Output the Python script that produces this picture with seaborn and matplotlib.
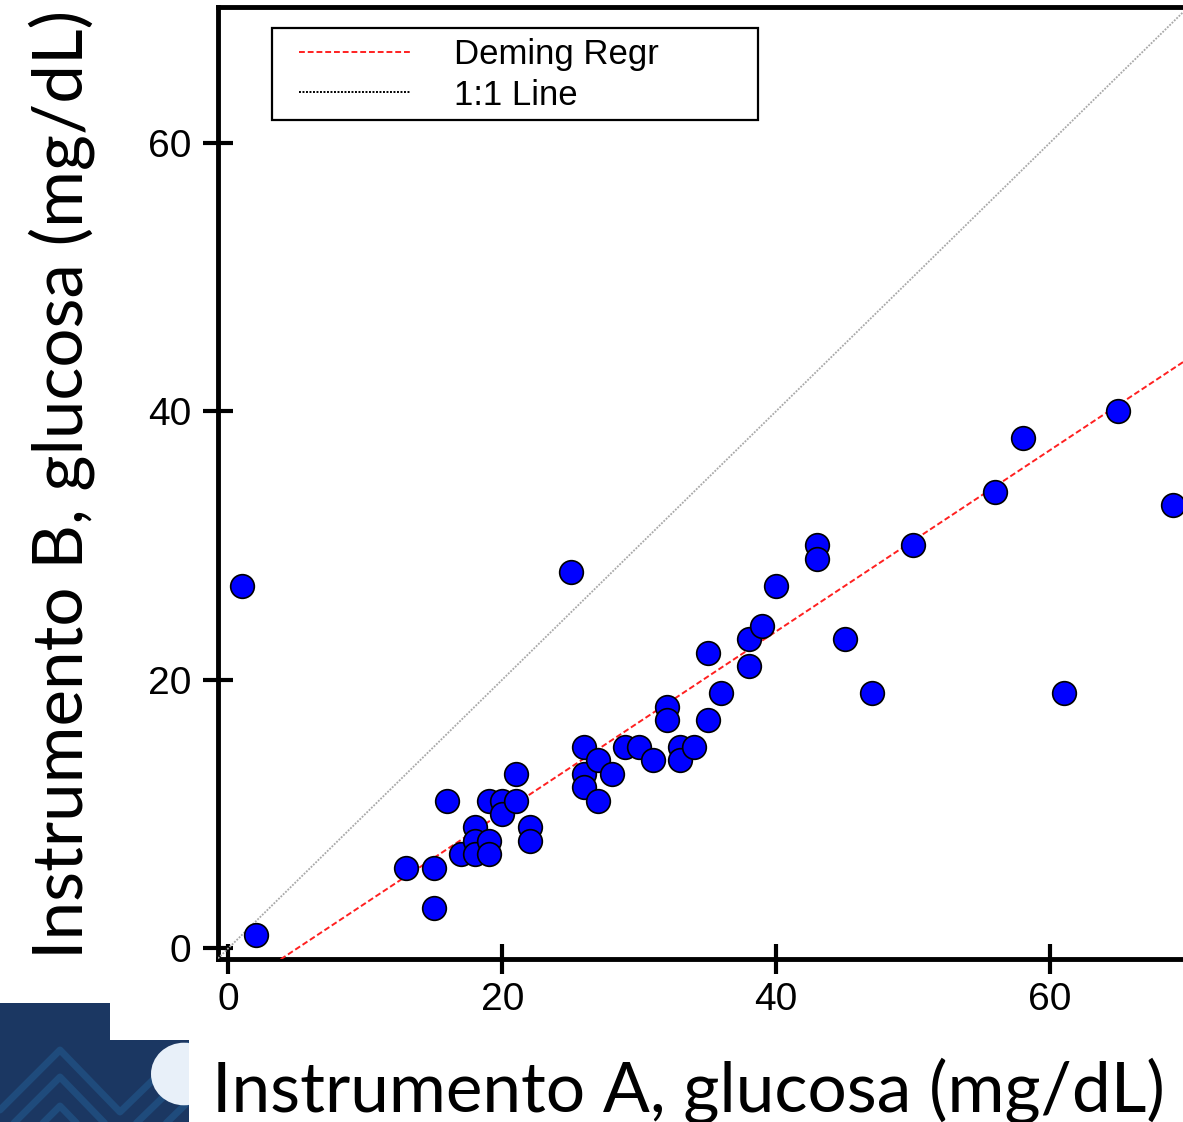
import numpy as np
import pandas as pd
import matplotlib
matplotlib.use("Agg")
import matplotlib.pyplot as plt
import seaborn as sns
from matplotlib.lines import Line2D
from matplotlib.patches import Rectangle, Polygon, Circle
from matplotlib.ticker import MultipleLocator

# ---------------- data ----------------
instr_a = [1, 2, 13, 15, 15, 16, 17, 18, 18, 18, 19, 19, 19, 20, 20, 21, 21, 22, 22,
           25, 26, 26, 26, 27, 27, 28, 29, 30, 31, 32, 32, 33, 33, 34, 35, 35, 36,
           38, 38, 39, 40, 43, 43, 45, 47, 50, 56, 58, 61, 65, 69]
instr_b = [27, 1, 6, 6, 3, 11, 7, 9, 8, 7, 8, 7, 11, 11, 10, 11, 13, 9, 8,
           28, 15, 13, 12, 14, 11, 13, 15, 15, 14, 18, 17, 15, 14, 15, 17, 22, 19,
           21, 23, 24, 27, 30, 29, 23, 19, 30, 34, 38, 19, 40, 33]
deming_slope = 0.675
deming_intercept = -3.4
tick_values = [0, 20, 40, 60]
legend_labels = ["Deming Regr", "1:1 Line"]
xlabel = "Instrumento A, glucosa (mg/dL)"
ylabel = "Instrumento B, glucosa (mg/dL)"

df = pd.DataFrame({"a": instr_a, "b": instr_b})

# ---------------- figure ----------------
sns.set_style("white")
plt.rcParams["font.family"] = ["Liberation Sans", "DejaVu Sans"]
plt.rcParams["text.color"] = "black"

W, H = 1183, 1122
fig = plt.figure(figsize=(W / 100, H / 100), dpi=100)
ax = fig.add_axes([218 / W, 1 - 959.3 / H, (W - 218) / W, (959.3 - 7) / H])
ax.set_facecolor("white")

sns.scatterplot(data=df, x="a", y="b", ax=ax, color="#0000ff", edgecolor="black",
                linewidth=1.2, s=290, zorder=4, legend=False)

ax.axline((0, deming_intercept), slope=deming_slope, color="#ff2020", lw=1.4,
          ls=(0, (3, 1.5)), zorder=3)
ax.axline((0, 0), slope=1, color="#a8a8a8", lw=1.3, ls=(0, (1, 0.8)), zorder=3)

ax.set_xlim(-0.752, 69.71)
ax.set_ylim(-0.819, 70.10)
ax.set_xticks(tick_values)
ax.set_yticks(tick_values)
ax.xaxis.set_minor_locator(MultipleLocator(5))
ax.yaxis.set_minor_locator(MultipleLocator(5))
ax.set_xlabel("")
ax.set_ylabel("")

for side in ["left", "bottom", "top"]:
    ax.spines[side].set_visible(True)
    ax.spines[side].set_linewidth(3.5)
    ax.spines[side].set_color("black")
ax.spines["right"].set_visible(False)

ax.tick_params(which="both", bottom=True, left=True, top=False, right=False)
ax.tick_params(which="major", direction="inout", length=21, width=3, color="black",
               labelsize=28, labelcolor="black", pad=6)
ax.tick_params(axis="y", which="major", pad=9)
ax.tick_params(which="minor", direction="inout", length=8, width=2.0, color="white")

# legend
handles = [Line2D([], [], color="#ff2020", lw=1.4, ls=(0, (3, 1.5))),
           Line2D([], [], color="black", lw=1.4, ls=(0, (1, 0.8)))]
leg = ax.legend(handles, legend_labels, loc="upper left",
                bbox_to_anchor=(299 / W, 1 - 38 / H), bbox_transform=fig.transFigure,
                frameon=False, fontsize=25, handlelength=3.2, handletextpad=1.25,
                borderpad=0, borderaxespad=0, labelspacing=0.22, labelcolor="black")
leg.set_zorder(6)
ax.add_patch(Rectangle((272 / W, 1 - 120 / H), 486 / W, 92 / H, transform=fig.transFigure,
                       fill=False, ec="black", lw=1.6, clip_on=False, zorder=6))

# axis titles (Calibri-like)
lab_font = ["Lato", "DejaVu Sans"]
tx = fig.text(688 / W, 1 - 1111 / H, xlabel, ha="center", va="baseline",
              fontsize=50, family=lab_font, color="black")
ty = fig.text(83 / W, 1 - 484 / H, ylabel, ha="center", va="baseline", rotation=90,
              rotation_mode="anchor", fontsize=50, family=lab_font, color="black")
fig.canvas.draw()
r = fig.canvas.get_renderer()
wx = tx.get_window_extent(r).width
tx.set_fontsize(50 * 953 / wx)
wy = ty.get_window_extent(r).height
ty.set_fontsize(50 * 948 / wy)

# logo decoration (bottom-left)
navy = "#1b3762"
logo = Polygon([(0, 1 - 1003 / H), (110 / W, 1 - 1003 / H), (110 / W, 1 - 1040 / H),
                (189 / W, 1 - 1040 / H), (189 / W, 0), (0, 0)], closed=True,
               transform=fig.transFigure, fc=navy, ec="none", zorder=1)
fig.patches.append(logo)
for dy in [0, 27, 56]:
    pts = np.array([(0, 1110 + dy), (60, 1050 + dy), (120, 1112 + dy), (189, 1045 + dy)],
                   dtype=float)
    ln = Line2D(pts[:, 0] / W, 1 - pts[:, 1] / H, transform=fig.transFigure,
                color="#1f4b7c", lw=5, zorder=2)
    ln.set_clip_path(logo)
    fig.lines.append(ln)
circ = Circle((184 / W, 1 - 1074 / H), 33 / W, transform=fig.transFigure,
              fc="#e8f0f9", ec="none", zorder=3)
circ.set_clip_path(logo)
fig.patches.append(circ)

fig.savefig("out.png", dpi=100)
